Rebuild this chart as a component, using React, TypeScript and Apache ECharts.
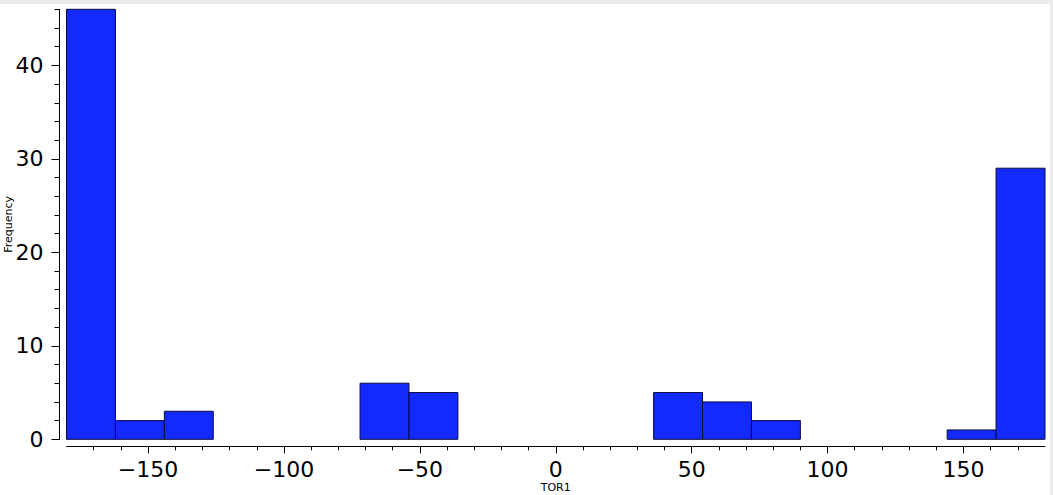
import React, { useEffect, useRef } from "react";
import * as echarts from "echarts";

const binEdges = [-180, -162, -144, -126, -108, -90, -72, -54, -36, -18, 0, 18, 36, 54, 72, 90, 108, 126, 144, 162, 180];
const counts = [46, 2, 3, 0, 0, 0, 6, 5, 0, 0, 0, 0, 5, 4, 2, 0, 0, 0, 1, 29];
const xMajorTicks = [-150, -100, -50, 0, 50, 100, 150];
const xMinorTicks = [-170, -160, -140, -130, -120, -110, -90, -80, -70, -60, -40, -30, -20, -10, 10, 20, 30, 40, 60, 70, 80, 90, 110, 120, 130, 140, 160, 170];
const yMajorTicks = [0, 10, 20, 30, 40];
const yMinorTicks = [2, 4, 6, 8, 12, 14, 16, 18, 22, 24, 26, 28, 32, 34, 36, 38, 42, 44, 46];
const xTitle = "TOR1";
const yTitle = "Frequency";

const FONT = "DejaVu Sans";

export default function App() {
  const ref = useRef<HTMLDivElement>(null);
  useEffect(() => {
    if (!ref.current) return;
    const chart = echarts.init(ref.current, undefined, { renderer: "svg" });
    const data = counts
      .map((c, i) => [binEdges[i], binEdges[i + 1], c])
      .filter((d) => d[2] > 0);
    const fmt = (v: number) => (v < 0 ? "\u2212" + Math.abs(v) : String(v));
    const xBase = {
      type: "value" as const,
      min: -180,
      max: 180,
      position: "bottom" as const,
      offset: 7,
      splitLine: { show: false },
    };
    const yBase = {
      type: "value" as const,
      min: 0,
      max: 46,
      position: "left" as const,
      offset: 7,
      splitLine: { show: false },
    };
    chart.setOption({
      animation: false,
      backgroundColor: "#ffffff",
      grid: { left: 66.5, right: 5, top: 5.3, bottom: 55.7, containLabel: false, outerBoundsMode: "none" },
      xAxis: [
        {
          ...xBase,
          name: xTitle,
          nameLocation: "middle",
          nameGap: 36,
          nameMoveOverlap: false,
          nameTextStyle: { fontFamily: FONT, fontSize: 11, color: "#000" },
          axisLine: { show: true, onZero: false, lineStyle: { color: "#000", width: 1 } },
          axisTick: { show: true, length: 7, customValues: xMajorTicks, lineStyle: { color: "#000" } },
          axisLabel: {
            show: true,
            customValues: xMajorTicks,
            formatter: fmt,
            margin: 12,
            fontFamily: FONT,
            fontSize: 22,
            color: "#000",
          },
        },
        {
          ...xBase,
          axisLine: { show: false, onZero: false },
          axisTick: { show: true, length: 4, customValues: xMinorTicks, lineStyle: { color: "#000" } },
          axisLabel: { show: false },
        },
      ],
      yAxis: [
        {
          ...yBase,
          name: yTitle,
          nameLocation: "middle",
          nameRotate: 90,
          nameGap: 46,
          nameMoveOverlap: false,
          nameTextStyle: { fontFamily: FONT, fontSize: 11, color: "#000" },
          axisLine: { show: true, onZero: false, lineStyle: { color: "#000", width: 1 } },
          axisTick: { show: true, length: 8, customValues: yMajorTicks, lineStyle: { color: "#000" } },
          axisLabel: {
            show: true,
            customValues: yMajorTicks,
            margin: 16,
            fontFamily: FONT,
            fontSize: 22,
            color: "#000",
          },
        },
        {
          ...yBase,
          axisLine: { show: false, onZero: false },
          axisTick: { show: true, length: 5, customValues: yMinorTicks, lineStyle: { color: "#000" } },
          axisLabel: { show: false },
        },
      ],
      series: [
        {
          type: "custom",
          xAxisIndex: 0,
          yAxisIndex: 0,
          data,
          encode: { x: [0, 1], y: 2 },
          renderItem: (params: any, api: any) => {
            const x0 = api.value(0);
            const x1 = api.value(1);
            const y = api.value(2);
            const p0 = api.coord([x0, y]);
            const p1 = api.coord([x1, 0]);
            return {
              type: "rect",
              shape: { x: p0[0], y: p0[1], width: p1[0] - p0[0], height: p1[1] - p0[1] },
              style: { fill: "#1229ff", stroke: "#0a0a40", lineWidth: 1 },
            };
          },
        },
      ],
    });
    return () => chart.dispose();
  }, []);
  return (
    <div style={{ position: "fixed", left: 0, top: 0, width: 1053, height: 495, background: "#ebebeb" }}>
      <div ref={ref} style={{ position: "absolute", left: 0, top: 4, width: 1050, height: 491 }} />
    </div>
  );
}
